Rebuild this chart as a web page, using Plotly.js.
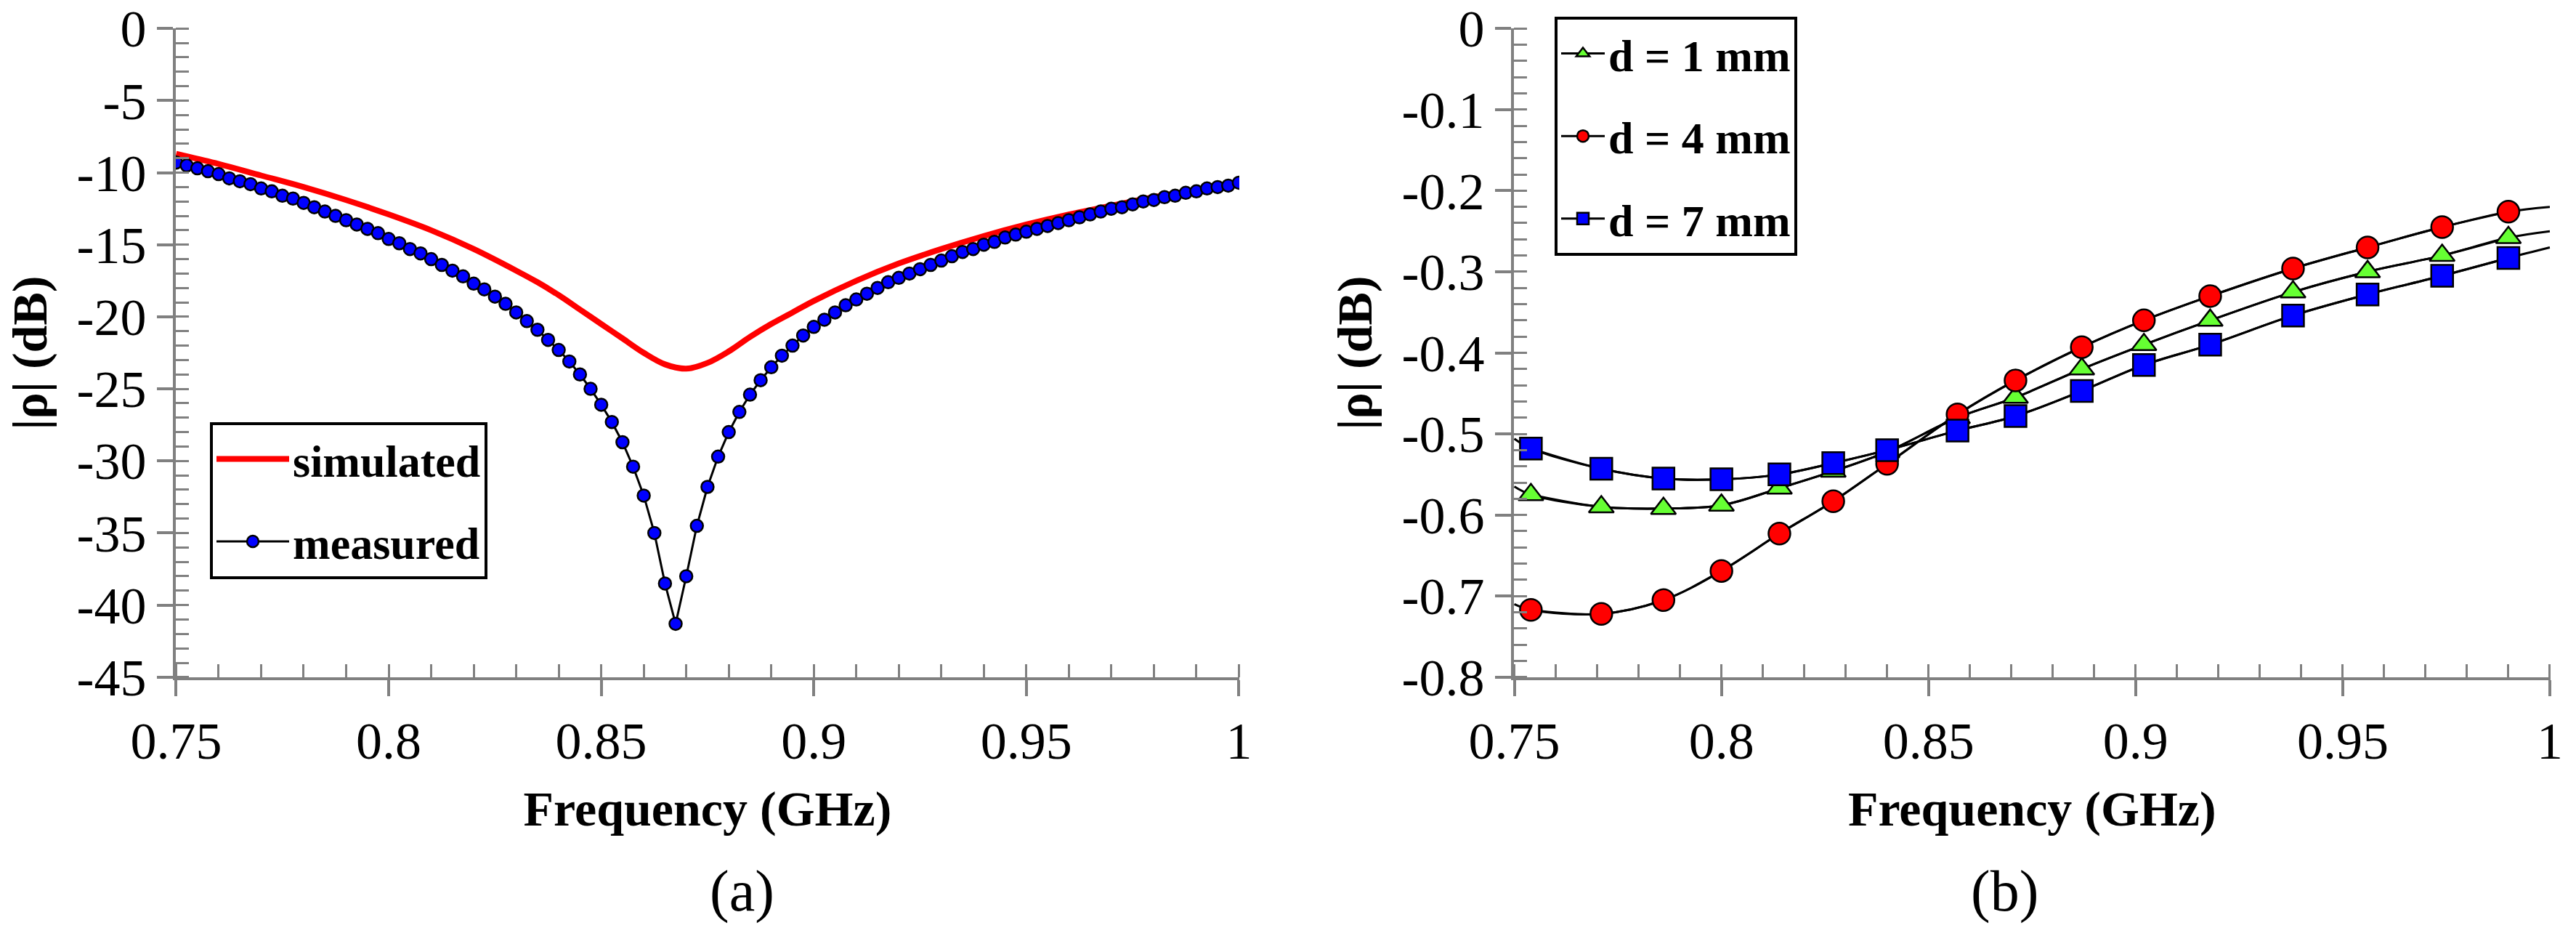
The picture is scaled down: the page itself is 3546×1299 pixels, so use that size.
<!DOCTYPE html>
<html>
<head>
<meta charset="utf-8">
<script src="https://cdn.plot.ly/plotly-3.0.1.min.js"></script>
<style>body{margin:0;background:#fff}</style>
</head>
<body>
<div id="chart" style="width:3546px;height:1299px"></div>
<script>
// (a) measured sweep, GHz / dB
var measFreq = [0.75,0.7525,0.755,0.7575,0.76,0.7625,0.765,0.7675,0.77,0.7725,0.775,0.7775,0.78,0.7825,0.785,0.7875,0.79,0.7925,0.795,0.7975,
  0.8,0.8025,0.805,0.8075,0.81,0.8125,0.815,0.8175,0.82,0.8225,0.825,0.8275,0.83,0.8325,0.835,0.8375,0.84,0.8425,0.845,0.8475,
  0.85,0.8525,0.855,0.8575,0.86,0.8625,0.865,0.8675,0.87,0.8725,0.875,0.8775,0.88,0.8825,0.885,0.8875,0.89,0.8925,0.895,0.8975,
  0.9,0.9025,0.905,0.9075,0.91,0.9125,0.915,0.9175,0.92,0.9225,0.925,0.9275,0.93,0.9325,0.935,0.9375,0.94,0.9425,0.945,0.9475,
  0.95,0.9525,0.955,0.9575,0.96,0.9625,0.965,0.9675,0.97,0.9725,0.975,0.9775,0.98,0.9825,0.985,0.9875,0.99,0.9925,0.995,0.9975,1.0];
var measured = [-9.3,-9.5,-9.7,-9.9,-10.1,-10.4,-10.6,-10.8,-11.1,-11.3,-11.6,-11.8,-12.1,-12.4,-12.7,-13.0,-13.3,-13.6,-13.9,-14.2,
  -14.6,-14.9,-15.3,-15.6,-16.0,-16.4,-16.8,-17.2,-17.7,-18.1,-18.6,-19.1,-19.7,-20.3,-20.9,-21.6,-22.3,-23.1,-24.0,-25.0,
  -26.1,-27.3,-28.7,-30.4,-32.4,-35.0,-38.5,-41.3,-38.0,-34.5,-31.8,-29.7,-28.0,-26.6,-25.4,-24.4,-23.5,-22.7,-22.0,-21.3,
  -20.7,-20.2,-19.7,-19.2,-18.8,-18.4,-18.0,-17.6,-17.3,-17.0,-16.7,-16.4,-16.1,-15.8,-15.5,-15.3,-15.0,-14.8,-14.5,-14.3,
  -14.1,-13.9,-13.7,-13.5,-13.3,-13.1,-12.9,-12.7,-12.5,-12.4,-12.2,-12.0,-11.9,-11.7,-11.6,-11.4,-11.3,-11.1,-11.0,-10.9,-10.7];
// (a) simulated
var simFreq = [0.75,0.76,0.77,0.78,0.79,0.8,0.81,0.82,0.83,0.835,0.84,0.845,0.85,0.855,0.86,0.865,0.87,0.875,0.88,0.885,0.89,0.895,0.9,0.91,0.92,0.93,0.94,0.95,0.96,0.97,0.98,0.99,1.0];
var simulated = [-8.7,-9.4,-10.2,-11.0,-11.9,-12.9,-14.0,-15.3,-16.8,-17.6,-18.5,-19.5,-20.5,-21.5,-22.5,-23.3,-23.6,-23.2,-22.4,-21.4,-20.5,-19.7,-18.9,-17.5,-16.3,-15.3,-14.4,-13.6,-12.9,-12.3,-11.7,-11.2,-10.8];

// (b) gap sweep
var gapFreq = [0.754,0.771,0.786,0.8,0.814,0.827,0.84,0.857,0.871,0.887,0.902,0.918,0.938,0.956,0.974,0.99];
var d1 = [-0.575,-0.59,-0.592,-0.588,-0.567,-0.546,-0.522,-0.48,-0.455,-0.42,-0.39,-0.36,-0.325,-0.30,-0.28,-0.258];
var d4 = [-0.717,-0.722,-0.705,-0.669,-0.623,-0.583,-0.537,-0.476,-0.434,-0.393,-0.36,-0.33,-0.296,-0.27,-0.245,-0.226];
var d7 = [-0.518,-0.543,-0.555,-0.556,-0.55,-0.536,-0.52,-0.496,-0.478,-0.447,-0.415,-0.39,-0.354,-0.328,-0.305,-0.283];
// curve ends at the axis limits
var edgeFreq = [0.75, 1.0];
var d1Edge = [-0.565, -0.25];
var d4Edge = [-0.71, -0.22];
var d7Edge = [-0.506, -0.27];

// tick labels
var freqTicks = [0.75, 0.8, 0.85, 0.9, 0.95, 1];
var freqLabels = ['0.75', '0.8', '0.85', '0.9', '0.95', '1'];
var dbTicksA = [0, -5, -10, -15, -20, -25, -30, -35, -40, -45];
var dbLabelsA = ['0', '-5', '-10', '-15', '-20', '-25', '-30', '-35', '-40', '-45'];
var dbTicksB = [0, -0.1, -0.2, -0.3, -0.4, -0.5, -0.6, -0.7, -0.8];
var dbLabelsB = ['0', '-0.1', '-0.2', '-0.3', '-0.4', '-0.5', '-0.6', '-0.7', '-0.8'];

function withEdges(x, y, ex, ey) {
  return {x: [ex[0]].concat(x, [ex[1]]), y: [ey[0]].concat(y, [ey[1]])};
}

var serif = 'Times New Roman, Liberation Serif, serif';

var series = [
  {name: 'd = 1 mm', y: d1, e: d1Edge, sym: 'triangle-up', col: '#66ff33'},
  {name: 'd = 4 mm', y: d4, e: d4Edge, sym: 'circle', col: '#ff0000'},
  {name: 'd = 7 mm', y: d7, e: d7Edge, sym: 'square', col: '#0000ff'}
];

var data = [
  {x: simFreq, y: simulated, mode: 'lines', line: {color: '#ff0000', width: 8, shape: 'spline'},
   name: 'simulated', legend: 'legend', legendgroup: 'a1'},
  {x: measFreq, y: measured, mode: 'lines+markers', line: {color: '#000', width: 3},
   marker: {color: '#0000ff', size: 17, line: {color: '#000', width: 2.5}},
   name: 'measured', legend: 'legend', legendgroup: 'a2'}
];
series.forEach(function (s, i) {
  var c = withEdges(gapFreq, s.y, edgeFreq, s.e);
  data.push({x: c.x, y: c.y, xaxis: 'x2', yaxis: 'y2', mode: 'lines', showlegend: false,
    line: {color: '#000', width: 3, shape: 'spline'}, hoverinfo: 'skip'});
  data.push({x: gapFreq, y: s.y, xaxis: 'x2', yaxis: 'y2', mode: 'lines+markers', name: s.name,
    legend: 'legend2', legendgroup: 'b' + i, line: {color: '#000', width: 3, shape: 'spline'},
    marker: {symbol: s.sym, size: 30, color: s.col, line: {color: '#000', width: 2.5}}});
});

function ax(extra) {
  var a = {showgrid: false, zeroline: false, showline: true, linecolor: '#808080', linewidth: 4,
    ticks: 'outside', ticklen: 22, tickwidth: 4, tickcolor: '#808080',
    tickfont: {family: serif, size: 72, color: '#000'}, tickmode: 'array', ticklabeloverflow: 'allow'};
  for (var k in extra) a[k] = extra[k];
  return a;
}
function axTitle(t, gap) {
  return {text: t, standoff: gap, font: {family: serif, size: 68, color: '#000', weight: 'bold'}};
}
var minorX = {dtick: 0.01, ticks: 'inside', ticklen: 18, tickwidth: 3, tickcolor: '#808080'};

var legendFont = {family: serif, size: 62, weight: 'bold', color: '#000'};
var layout = {
  width: 3546, height: 1299,
  margin: {l: 0, r: 0, t: 0, b: 0},
  font: {family: serif, color: '#000'},
  paper_bgcolor: '#fff', plot_bgcolor: '#fff',
  showlegend: true,
  xaxis: ax({domain: [0.0682, 0.4811], range: [0.7499, 1.0001], tickvals: freqTicks, ticktext: freqLabels,
    minor: minorX, title: axTitle('Frequency (GHz)', 30), anchor: 'y'}),
  yaxis: ax({domain: [0.2825, 0.97], range: [-45.01, 0.01], tickvals: dbTicksA, ticktext: dbLabelsA,
    minor: {dtick: 1, ticks: 'inside', ticklen: 18, tickwidth: 3, tickcolor: '#808080'},
    title: axTitle('|ρ| (dB)', 20), anchor: 'x'}),
  xaxis2: ax({domain: [0.5877, 0.99], range: [0.7499, 1.0001], tickvals: freqTicks, ticktext: freqLabels,
    minor: minorX, title: axTitle('Frequency (GHz)', 30), anchor: 'y2'}),
  yaxis2: ax({domain: [0.2825, 0.97], range: [-0.8002, 0.0002], tickvals: dbTicksB, ticktext: dbLabelsB,
    minor: {dtick: 0.02, ticks: 'inside', ticklen: 18, tickwidth: 3, tickcolor: '#808080'},
    title: axTitle('|ρ| (dB)', 20), anchor: 'x2'}),
  legend: {x: 0.0815, y: 0.553, xanchor: 'left', yanchor: 'top', bgcolor: '#fff',
    bordercolor: '#000', borderwidth: 4, font: legendFont, itemwidth: 100, tracegroupgap: 30},
  legend2: {x: 0.6035, y: 0.9825, xanchor: 'left', yanchor: 'top', bgcolor: '#fff',
    bordercolor: '#000', borderwidth: 4, font: legendFont, itemwidth: 60, tracegroupgap: 30},
  annotations: [
    {text: '(a)', x: 0.275, y: 0.02, xref: 'paper', yref: 'paper', showarrow: false,
     font: {family: serif, size: 80, color: '#000'}},
    {text: '(b)', x: 0.792, y: 0.02, xref: 'paper', yref: 'paper', showarrow: false,
     font: {family: serif, size: 80, color: '#000'}}
  ]
};

Plotly.newPlot('chart', data, layout, {staticPlot: true});
</script>
</body>
</html>
